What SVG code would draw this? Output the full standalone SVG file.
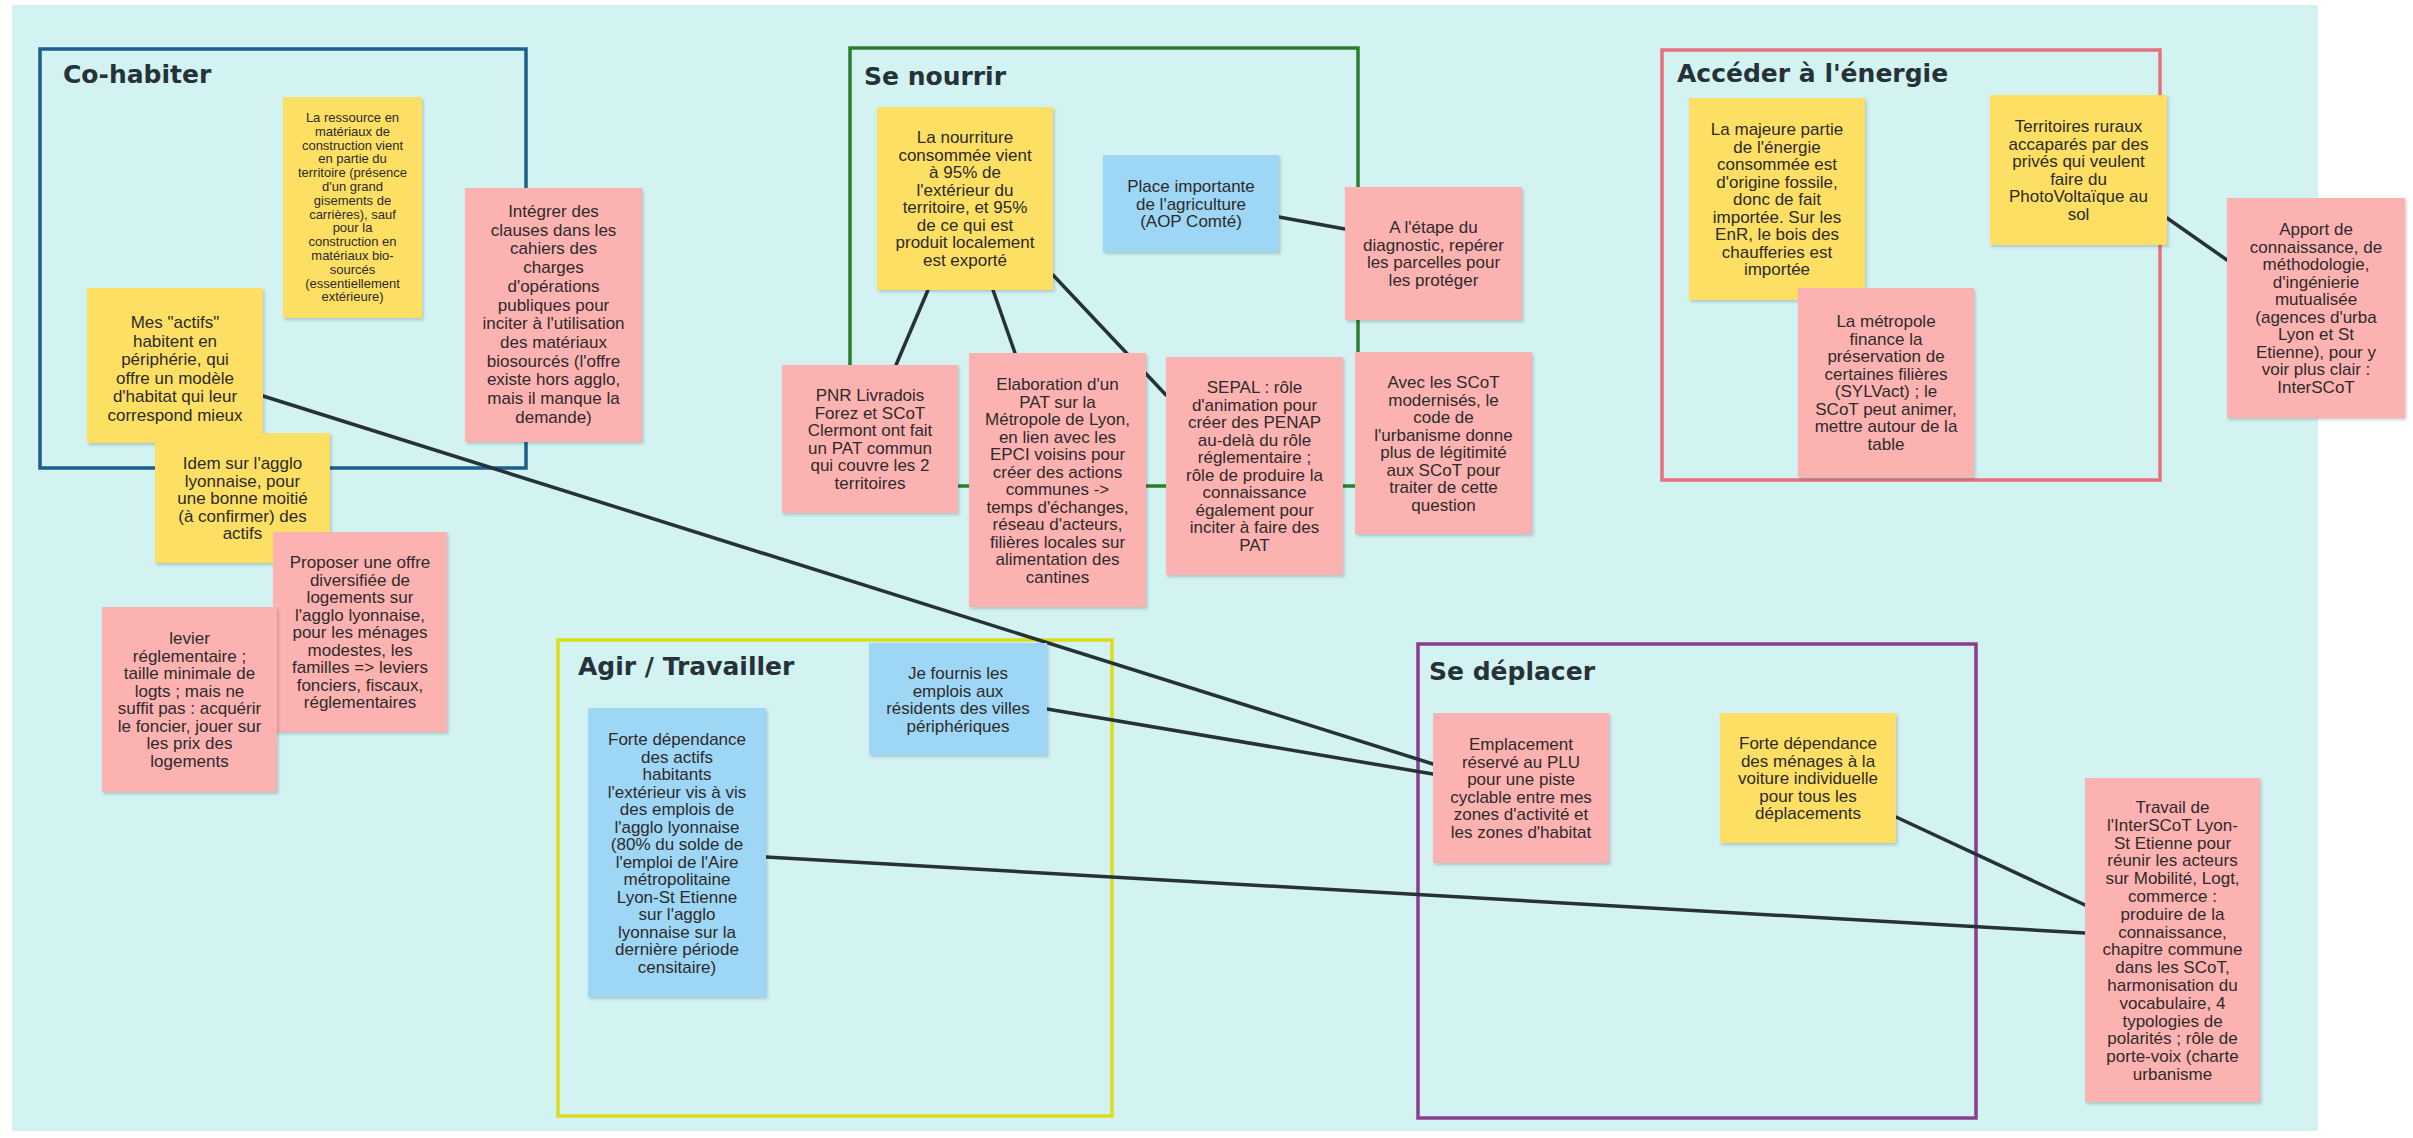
<svg xmlns="http://www.w3.org/2000/svg" width="2413" height="1138" viewBox="0 0 2413 1138">
<style>
.bg{fill:#d3f2f2}
.frame{fill:none;stroke-width:3.5}
.title{font-family:"DejaVu Sans",sans-serif;font-weight:bold;font-size:25px;fill:#263238}
.y{fill:#fde063}
.p{fill:#fdb2b2}
.b{fill:#9dd7f5}
.note rect{filter:url(#sh)}
.t{font-family:"Liberation Sans",Arial,sans-serif;font-size:17px;fill:#2e2a2a;text-anchor:middle}
.s{font-size:13px}
#connectors line{stroke:#263238;stroke-width:3.5;stroke-linecap:round}
</style>
<defs>
<filter id="sh" x="-10%" y="-10%" width="120%" height="120%">
<feDropShadow dx="1.5" dy="2" stdDeviation="1.5" flood-color="#000" flood-opacity="0.18"/>
</filter>
</defs>
<rect width="2413" height="1138" fill="#ffffff"/>
<rect class="bg" x="12" y="5" width="2306" height="1126"/>

<g id="frames">
<g id="frame-cohabiter"><rect class="frame" x="40" y="49" width="486" height="419" stroke="#1d5f8a"/><text class="title" x="63" y="83">Co-habiter</text></g>
<g id="frame-nourrir"><rect class="frame" x="850" y="48" width="508" height="438" stroke="#2d7d2d"/><text class="title" x="864" y="85">Se nourrir</text></g>
<g id="frame-energie"><rect class="frame" x="1662" y="50" width="498" height="430" stroke="#e8707c"/><text class="title" x="1677" y="82">Accéder à l'énergie</text></g>
<g id="frame-agir"><rect class="frame" x="558" y="640" width="554" height="476" stroke="#dcdc1c"/><text class="title" x="578" y="675">Agir / Travailler</text></g>
<g id="frame-deplacer"><rect class="frame" x="1418" y="644" width="558" height="474" stroke="#8a3d8c"/><text class="title" x="1429" y="680">Se déplacer</text></g>
</g>

<g id="connectors">
<line x1="263" y1="396" x2="1433" y2="764"/>
<line x1="1047" y1="709" x2="1433" y2="774"/>
<line x1="766" y1="857" x2="2085" y2="933"/>
<line x1="1896" y1="817" x2="2085" y2="905"/>
<line x1="928" y1="290" x2="896" y2="365"/>
<line x1="993" y1="290" x2="1015" y2="353"/>
<line x1="1053" y1="275" x2="1166" y2="395"/>
<line x1="1279" y1="217" x2="1345" y2="229"/>
<line x1="2167" y1="218" x2="2227" y2="260"/>
</g>

<g id="n-ressource" class="note"><rect class="y" x="283" y="97" width="139" height="221"/>
<text class="t s" x="352.5" y="122"><tspan x="352.5">La ressource en</tspan><tspan x="352.5" dy="13.8">matériaux de</tspan><tspan x="352.5" dy="13.8">construction vient</tspan><tspan x="352.5" dy="13.8">en partie du</tspan><tspan x="352.5" dy="13.8">territoire (présence</tspan><tspan x="352.5" dy="13.8">d'un grand</tspan><tspan x="352.5" dy="13.8">gisements de</tspan><tspan x="352.5" dy="13.8">carrières), sauf</tspan><tspan x="352.5" dy="13.8">pour la</tspan><tspan x="352.5" dy="13.8">construction en</tspan><tspan x="352.5" dy="13.8">matériaux bio-</tspan><tspan x="352.5" dy="13.8">sourcés</tspan><tspan x="352.5" dy="13.8">(essentiellement</tspan><tspan x="352.5" dy="13.8">extérieure)</tspan></text></g>

<g id="n-actifs" class="note"><rect class="y" x="87" y="288" width="176" height="155"/>
<text class="t" x="175" y="328"><tspan x="175">Mes "actifs"</tspan><tspan x="175" dy="18.5">habitent en</tspan><tspan x="175" dy="18.5">périphérie, qui</tspan><tspan x="175" dy="18.5">offre un modèle</tspan><tspan x="175" dy="18.5">d'habitat qui leur</tspan><tspan x="175" dy="18.5">correspond mieux</tspan></text></g>

<g id="n-integrer" class="note"><rect class="p" x="465" y="188" width="177" height="254"/>
<text class="t" x="553.5" y="217"><tspan x="553.5">Intégrer des</tspan><tspan x="553.5" dy="18.7">clauses dans les</tspan><tspan x="553.5" dy="18.7">cahiers des</tspan><tspan x="553.5" dy="18.7">charges</tspan><tspan x="553.5" dy="18.7">d'opérations</tspan><tspan x="553.5" dy="18.7">publiques pour</tspan><tspan x="553.5" dy="18.7">inciter à l'utilisation</tspan><tspan x="553.5" dy="18.7">des matériaux</tspan><tspan x="553.5" dy="18.7">biosourcés (l'offre</tspan><tspan x="553.5" dy="18.7">existe hors agglo,</tspan><tspan x="553.5" dy="18.7">mais il manque la</tspan><tspan x="553.5" dy="18.7">demande)</tspan></text></g>

<g id="n-idem" class="note"><rect class="y" x="155" y="433" width="175" height="130"/>
<text class="t" x="242.5" y="469"><tspan x="242.5">Idem sur l'agglo</tspan><tspan x="242.5" dy="17.5">lyonnaise, pour</tspan><tspan x="242.5" dy="17.5">une bonne moitié</tspan><tspan x="242.5" dy="17.5">(à confirmer) des</tspan><tspan x="242.5" dy="17.5">actifs</tspan></text></g>

<g id="n-proposer" class="note"><rect class="p" x="273" y="532" width="174" height="200"/>
<text class="t" x="360" y="568"><tspan x="360">Proposer une offre</tspan><tspan x="360" dy="17.5">diversifiée de</tspan><tspan x="360" dy="17.5">logements sur</tspan><tspan x="360" dy="17.5">l'agglo lyonnaise,</tspan><tspan x="360" dy="17.5">pour les ménages</tspan><tspan x="360" dy="17.5">modestes, les</tspan><tspan x="360" dy="17.5">familles =&gt; leviers</tspan><tspan x="360" dy="17.5">fonciers, fiscaux,</tspan><tspan x="360" dy="17.5">réglementaires</tspan></text></g>

<g id="n-levier" class="note"><rect class="p" x="102" y="607" width="175" height="185"/>
<text class="t" x="189.5" y="644"><tspan x="189.5">levier</tspan><tspan x="189.5" dy="17.5">réglementaire ;</tspan><tspan x="189.5" dy="17.5">taille minimale de</tspan><tspan x="189.5" dy="17.5">logts ; mais ne</tspan><tspan x="189.5" dy="17.5">suffit pas : acquérir</tspan><tspan x="189.5" dy="17.5">le foncier, jouer sur</tspan><tspan x="189.5" dy="17.5">les prix des</tspan><tspan x="189.5" dy="17.5">logements</tspan></text></g>

<g id="n-nourriture" class="note"><rect class="y" x="877" y="107" width="176" height="183"/>
<text class="t" x="965" y="143"><tspan x="965">La nourriture</tspan><tspan x="965" dy="17.5">consommée vient</tspan><tspan x="965" dy="17.5">à 95% de</tspan><tspan x="965" dy="17.5">l'extérieur du</tspan><tspan x="965" dy="17.5">territoire, et 95%</tspan><tspan x="965" dy="17.5">de ce qui est</tspan><tspan x="965" dy="17.5">produit localement</tspan><tspan x="965" dy="17.5">est exporté</tspan></text></g>

<g id="n-place" class="note"><rect class="b" x="1103" y="155" width="176" height="97"/>
<text class="t" x="1191" y="192"><tspan x="1191">Place importante</tspan><tspan x="1191" dy="17.5">de l'agriculture</tspan><tspan x="1191" dy="17.5">(AOP Comté)</tspan></text></g>

<g id="n-etape" class="note"><rect class="p" x="1345" y="187" width="177" height="133"/>
<text class="t" x="1433.5" y="233"><tspan x="1433.5">A l'étape du</tspan><tspan x="1433.5" dy="17.5">diagnostic, repérer</tspan><tspan x="1433.5" dy="17.5">les parcelles pour</tspan><tspan x="1433.5" dy="17.5">les protéger</tspan></text></g>

<g id="n-pnr" class="note"><rect class="p" x="782" y="365" width="176" height="148"/>
<text class="t" x="870" y="401"><tspan x="870">PNR Livradois</tspan><tspan x="870" dy="17.5">Forez et SCoT</tspan><tspan x="870" dy="17.5">Clermont ont fait</tspan><tspan x="870" dy="17.5">un PAT commun</tspan><tspan x="870" dy="17.5">qui couvre les 2</tspan><tspan x="870" dy="17.5">territoires</tspan></text></g>

<g id="n-elaboration" class="note"><rect class="p" x="969" y="353" width="177" height="254"/>
<text class="t" x="1057.5" y="390"><tspan x="1057.5">Elaboration d'un</tspan><tspan x="1057.5" dy="17.5">PAT sur la</tspan><tspan x="1057.5" dy="17.5">Métropole de Lyon,</tspan><tspan x="1057.5" dy="17.5">en lien avec les</tspan><tspan x="1057.5" dy="17.5">EPCI voisins pour</tspan><tspan x="1057.5" dy="17.5">créer des actions</tspan><tspan x="1057.5" dy="17.5">communes -&gt;</tspan><tspan x="1057.5" dy="17.5">temps d'échanges,</tspan><tspan x="1057.5" dy="17.5">réseau d'acteurs,</tspan><tspan x="1057.5" dy="17.5">filières locales sur</tspan><tspan x="1057.5" dy="17.5">alimentation des</tspan><tspan x="1057.5" dy="17.5">cantines</tspan></text></g>

<g id="n-sepal" class="note"><rect class="p" x="1166" y="357" width="177" height="218"/>
<text class="t" x="1254.5" y="393"><tspan x="1254.5">SEPAL : rôle</tspan><tspan x="1254.5" dy="17.5">d'animation pour</tspan><tspan x="1254.5" dy="17.5">créer des PENAP</tspan><tspan x="1254.5" dy="17.5">au-delà du rôle</tspan><tspan x="1254.5" dy="17.5">réglementaire ;</tspan><tspan x="1254.5" dy="17.5">rôle de produire la</tspan><tspan x="1254.5" dy="17.5">connaissance</tspan><tspan x="1254.5" dy="17.5">également pour</tspan><tspan x="1254.5" dy="17.5">inciter à faire des</tspan><tspan x="1254.5" dy="17.5">PAT</tspan></text></g>

<g id="n-avec" class="note"><rect class="p" x="1355" y="352" width="177" height="182"/>
<text class="t" x="1443.5" y="388"><tspan x="1443.5">Avec les SCoT</tspan><tspan x="1443.5" dy="17.5">modernisés, le</tspan><tspan x="1443.5" dy="17.5">code de</tspan><tspan x="1443.5" dy="17.5">l'urbanisme donne</tspan><tspan x="1443.5" dy="17.5">plus de légitimité</tspan><tspan x="1443.5" dy="17.5">aux SCoT pour</tspan><tspan x="1443.5" dy="17.5">traiter de cette</tspan><tspan x="1443.5" dy="17.5">question</tspan></text></g>

<g id="n-majeure" class="note"><rect class="y" x="1689" y="98" width="176" height="202"/>
<text class="t" x="1777" y="135"><tspan x="1777">La majeure partie</tspan><tspan x="1777" dy="17.5">de l'énergie</tspan><tspan x="1777" dy="17.5">consommée est</tspan><tspan x="1777" dy="17.5">d'origine fossile,</tspan><tspan x="1777" dy="17.5">donc de fait</tspan><tspan x="1777" dy="17.5">importée. Sur les</tspan><tspan x="1777" dy="17.5">EnR, le bois des</tspan><tspan x="1777" dy="17.5">chaufferies est</tspan><tspan x="1777" dy="17.5">importée</tspan></text></g>

<g id="n-territoires" class="note"><rect class="y" x="1990" y="95" width="177" height="150"/>
<text class="t" x="2078.5" y="132"><tspan x="2078.5">Territoires ruraux</tspan><tspan x="2078.5" dy="17.5">accaparés par des</tspan><tspan x="2078.5" dy="17.5">privés qui veulent</tspan><tspan x="2078.5" dy="17.5">faire du</tspan><tspan x="2078.5" dy="17.5">PhotoVoltaïque au</tspan><tspan x="2078.5" dy="17.5">sol</tspan></text></g>

<g id="n-metropole" class="note"><rect class="p" x="1798" y="288" width="176" height="189"/>
<text class="t" x="1886" y="327"><tspan x="1886">La métropole</tspan><tspan x="1886" dy="17.5">finance la</tspan><tspan x="1886" dy="17.5">préservation de</tspan><tspan x="1886" dy="17.5">certaines filières</tspan><tspan x="1886" dy="17.5">(SYLVact) ; le</tspan><tspan x="1886" dy="17.5">SCoT peut animer,</tspan><tspan x="1886" dy="17.5">mettre autour de la</tspan><tspan x="1886" dy="17.5">table</tspan></text></g>

<g id="n-apport" class="note"><rect class="p" x="2227" y="198" width="178" height="220"/>
<text class="t" x="2316" y="235"><tspan x="2316">Apport de</tspan><tspan x="2316" dy="17.5">connaissance, de</tspan><tspan x="2316" dy="17.5">méthodologie,</tspan><tspan x="2316" dy="17.5">d'ingénierie</tspan><tspan x="2316" dy="17.5">mutualisée</tspan><tspan x="2316" dy="17.5">(agences d'urba</tspan><tspan x="2316" dy="17.5">Lyon et St</tspan><tspan x="2316" dy="17.5">Etienne), pour y</tspan><tspan x="2316" dy="17.5">voir plus clair :</tspan><tspan x="2316" dy="17.5">InterSCoT</tspan></text></g>

<g id="n-fournis" class="note"><rect class="b" x="869" y="643" width="178" height="112"/>
<text class="t" x="958" y="679"><tspan x="958">Je fournis les</tspan><tspan x="958" dy="17.5">emplois aux</tspan><tspan x="958" dy="17.5">résidents des villes</tspan><tspan x="958" dy="17.5">périphériques</tspan></text></g>

<g id="n-forte-actifs" class="note"><rect class="b" x="588" y="708" width="178" height="289"/>
<text class="t" x="677" y="745"><tspan x="677">Forte dépendance</tspan><tspan x="677" dy="17.5">des actifs</tspan><tspan x="677" dy="17.5">habitants</tspan><tspan x="677" dy="17.5">l'extérieur vis à vis</tspan><tspan x="677" dy="17.5">des emplois de</tspan><tspan x="677" dy="17.5">l'agglo lyonnaise</tspan><tspan x="677" dy="17.5">(80% du solde de</tspan><tspan x="677" dy="17.5">l'emploi de l'Aire</tspan><tspan x="677" dy="17.5">métropolitaine</tspan><tspan x="677" dy="17.5">Lyon-St Etienne</tspan><tspan x="677" dy="17.5">sur l'agglo</tspan><tspan x="677" dy="17.5">lyonnaise sur la</tspan><tspan x="677" dy="17.5">dernière période</tspan><tspan x="677" dy="17.5">censitaire)</tspan></text></g>

<g id="n-emplacement" class="note"><rect class="p" x="1433" y="713" width="176" height="150"/>
<text class="t" x="1521" y="750"><tspan x="1521">Emplacement</tspan><tspan x="1521" dy="17.5">réservé au PLU</tspan><tspan x="1521" dy="17.5">pour une piste</tspan><tspan x="1521" dy="17.5">cyclable entre mes</tspan><tspan x="1521" dy="17.5">zones d'activité et</tspan><tspan x="1521" dy="17.5">les zones d'habitat</tspan></text></g>

<g id="n-forte-menages" class="note"><rect class="y" x="1720" y="713" width="176" height="130"/>
<text class="t" x="1808" y="749"><tspan x="1808">Forte dépendance</tspan><tspan x="1808" dy="17.5">des ménages à la</tspan><tspan x="1808" dy="17.5">voiture individuelle</tspan><tspan x="1808" dy="17.5">pour tous les</tspan><tspan x="1808" dy="17.5">déplacements</tspan></text></g>

<g id="n-travail" class="note"><rect class="p" x="2085" y="778" width="175" height="324"/>
<text class="t" x="2172.5" y="813"><tspan x="2172.5">Travail de</tspan><tspan x="2172.5" dy="17.8">l'InterSCoT Lyon-</tspan><tspan x="2172.5" dy="17.8">St Etienne pour</tspan><tspan x="2172.5" dy="17.8">réunir les acteurs</tspan><tspan x="2172.5" dy="17.8">sur Mobilité, Logt,</tspan><tspan x="2172.5" dy="17.8">commerce :</tspan><tspan x="2172.5" dy="17.8">produire de la</tspan><tspan x="2172.5" dy="17.8">connaissance,</tspan><tspan x="2172.5" dy="17.8">chapitre commune</tspan><tspan x="2172.5" dy="17.8">dans les SCoT,</tspan><tspan x="2172.5" dy="17.8">harmonisation du</tspan><tspan x="2172.5" dy="17.8">vocabulaire, 4</tspan><tspan x="2172.5" dy="17.8">typologies de</tspan><tspan x="2172.5" dy="17.8">polarités ; rôle de</tspan><tspan x="2172.5" dy="17.8">porte-voix (charte</tspan><tspan x="2172.5" dy="17.8">urbanisme</tspan></text></g>
</svg>
